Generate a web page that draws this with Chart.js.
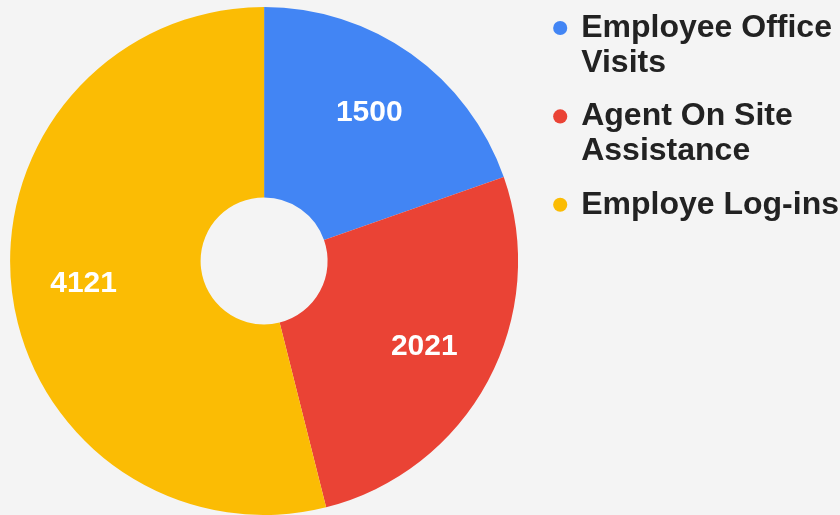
<!DOCTYPE html>
<html>
<head>
<meta charset="utf-8">
<script src="https://cdn.jsdelivr.net/npm/chart.js@4"></script>
<style>
  html, body { margin:0; padding:0; background:#f4f4f4; }
  #wrap { width:840px; height:515px; position:relative; }
</style>
</head>
<body>
<div id="wrap"><canvas id="pie"></canvas></div>
<script>
const labels = [
  ['Employee Office', 'Visits'],
  ['Agent On Site', 'Assistance'],
  ['Employe Log-ins'],
];
const values = [1500, 2021, 4121];
const colors = ['#4285f4', '#ea4335', '#fbbc04'];

/* value labels inside each slice */
const sliceLabels = {
  id: 'sliceLabels',
  afterDatasetsDraw(chart) {
    const { ctx } = chart;
    const meta = chart.getDatasetMeta(0);
    ctx.save();
    ctx.fillStyle = '#ffffff';
    ctx.font = 'bold 30px "Liberation Sans", Arial, sans-serif';
    ctx.textAlign = 'center';
    ctx.textBaseline = 'middle';
    meta.data.forEach((arc, i) => {
      const mid = (arc.startAngle + arc.endAngle) / 2;
      const r = arc.outerRadius * 0.716;
      ctx.fillText(String(values[i]), arc.x + Math.cos(mid) * r, arc.y + Math.sin(mid) * r);
    });
    ctx.restore();
  },
};

/* nudge the legend box up and right to sit like the original */
const legendNudge = {
  id: 'legendNudge',
  afterLayout(chart) {
    const lg = chart.legend;
    if (!lg) return;
    lg.top -= 13; lg.bottom -= 13;
    lg.left += 9; lg.right += 9;
  },
};

new Chart(document.getElementById('pie'), {
  type: 'doughnut',
  data: {
    labels,
    datasets: [{ data: values, backgroundColor: colors, borderWidth: 0 }],
  },
  options: {
    responsive: true, maintainAspectRatio: false, animation: false,
    cutout: '25%',
    layout: { padding: { top: 7, left: 0, right: 0, bottom: 0 } },
    plugins: {
      tooltip: { enabled: false },
      legend: {
        position: 'right', align: 'start',
        labels: {
          usePointStyle: true, pointStyle: 'circle',
          boxWidth: 10, boxHeight: 10, padding: 18,
          color: '#222222',
          font: { family: '"Liberation Sans", Arial, sans-serif', size: 32, weight: 'bold', lineHeight: 1.1 },
        },
      },
    },
  },
  plugins: [sliceLabels, legendNudge],
});
</script>
</body>
</html>
